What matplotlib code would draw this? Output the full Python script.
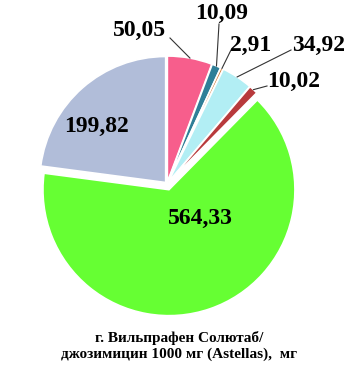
import numpy as np
import matplotlib.pyplot as plt

# valores del gráfico (en sentido horario desde arriba)
valores = [50.05, 10.09, 2.91, 34.92, 10.02, 564.33, 199.82]
etiquetas = ['50,05', '10,09', '2,91', '34,92', '10,02', '564,33', '199,82']
colores = ['#F75E8C', '#2F7F98', '#D27A35', '#B2EEF4', '#B83A3C', '#66FF33', '#B1BDD9']
separacion = [2, 2, 2, 2, 2, 6, 2]  # en píxeles
titulo = 'г. Вильпрафен Солютаб/\nджозимицин 1000 мг (Astellas),  мг'

W, H = 355, 367
def Y(y):
    return H - y

plt.rcParams['font.family'] = ['Liberation Serif', 'DejaVu Serif']

fig = plt.figure(figsize=(W / 100, H / 100), dpi=100)
ax = fig.add_axes([0, 0, 1, 1])

centro = (167, Y(184))
radio = 126
wedges, _ = ax.pie(valores, colors=colores, startangle=90, counterclock=False,
                   explode=separacion, center=centro, radius=radio, frame=True,
                   wedgeprops=dict(edgecolor='white', linewidth=1.2))

ax.set_xlim(0, W)
ax.set_ylim(0, H)
ax.set_aspect('equal')
ax.axis('off')

# etiquetas dentro
pos_dentro = {5: (200, 218), 6: (97, 126)}
# etiquetas fuera: posición del texto, inicio de la línea
pos_fuera = {0: ((140, 30), (170, 38)),
             1: ((222, 13), (219, 24)),
             2: ((251, 45), (231, 50)),
             3: ((319, 45), (291, 50)),
             4: ((294, 81), (267, 86))}

for i, w in enumerate(wedges):
    if i in pos_dentro:
        x, y = pos_dentro[i]
        ax.text(x, Y(y), etiquetas[i], ha='center', va='center',
                fontsize=17, fontweight='bold')
    else:
        (tx, ty), (lx, ly) = pos_fuera[i]
        ang = np.deg2rad((w.theta1 + w.theta2) / 2)
        cx, cy = w.center
        px = cx + w.r * np.cos(ang)
        py = cy + w.r * np.sin(ang)
        ax.text(tx, Y(ty), etiquetas[i], ha='center', va='center',
                fontsize=17, fontweight='bold')
        ax.plot([lx, px], [Y(ly), py], color='#333333', lw=0.8)

ax.text(179, Y(346), titulo, ha='center', va='center', fontsize=11,
        fontweight='bold', linespacing=1.25)

fig.savefig('out.png', dpi=100)
